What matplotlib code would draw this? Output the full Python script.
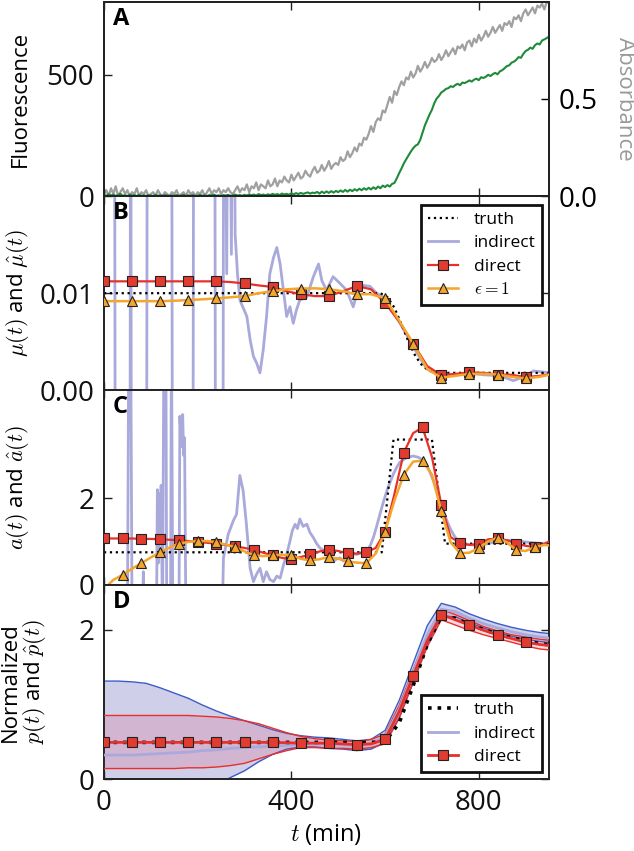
import numpy as np
import matplotlib
matplotlib.use('Agg')
import matplotlib.pyplot as plt

plt.rcParams['font.family'] = ['Open Sans', 'DejaVu Sans']
plt.rcParams['mathtext.fontset'] = 'cm'

# ---------------- Panel A : raw data (5-min sampling) ----------------
t_raw = np.arange(0, 951, 5)
fluorescence = [
    5, 0, 8, 2, 6, 0, 4, 9, 1, 3,
    0, 6, 2, 4, 0, 5, 1, 3, 0, 4,
    2, 0, 5, 1, 3, 0, 4, 2, 0, 3,
    1, 4, 0, 2, 5, 0, 3, 1, 4, 0,
    2, 5, 1, 3, 0, 4, 2, 6, 1, 3,
    0, 4, 2, 5, 1, 3, 6, 2, 4, 1,
    5, 2, 7, 3, 6, 2, 8, 4, 6, 3,
    7, 4, 9, 5, 8, 4, 10, 6, 9, 5,
    11, 7, 12, 8, 13, 9, 12, 15, 10, 14,
    12, 17, 10, 18, 12, 19, 13, 20, 14, 21,
    16, 23, 17, 25, 18, 26, 20, 28, 22, 30,
    24, 32, 26, 34, 27, 36, 29, 39, 32, 43,
    37, 45, 39, 50, 54, 73, 94, 113, 134, 151,
    167, 183, 197, 207, 213, 231, 261, 291, 314, 336,
    355, 382, 401, 412, 426, 433, 441, 444, 452, 449,
    457, 462, 456, 467, 465, 470, 476, 471, 479, 483,
    477, 489, 486, 491, 499, 494, 502, 507, 501, 513,
    518, 526, 535, 538, 549, 553, 561, 572, 569, 585,
    597, 602, 611, 606, 621, 628, 624, 640, 645, 650,
    657]
absorbance = [
    0.01, 0.03, 0.00, 0.04, 0.01, 0.05, 0.00, 0.02, 0.04, 0.01,
    0.03, 0.00, 0.02, 0.01, 0.04, 0.00, 0.02, 0.01, 0.03, 0.00,
    0.01, 0.02, 0.00, 0.03, 0.01, 0.00, 0.02, 0.01, 0.00, 0.02,
    0.01, 0.03, 0.00, 0.01, 0.02, 0.00, 0.03, 0.01, 0.02, 0.00,
    0.02, 0.01, 0.03, 0.00, 0.02, 0.04, 0.01, 0.03, 0.02, 0.04,
    0.01, 0.03, 0.02, 0.04, 0.02, 0.01, 0.03, 0.05, 0.02, 0.04,
    0.03, 0.06, 0.02, 0.05, 0.04, 0.07, 0.03, 0.06, 0.05, 0.04,
    0.08, 0.05, 0.06, 0.09, 0.05, 0.08, 0.07, 0.10, 0.08, 0.07,
    0.11, 0.08, 0.10, 0.12, 0.09, 0.10, 0.13, 0.11, 0.10, 0.13,
    0.15, 0.12, 0.13, 0.16, 0.13, 0.15, 0.18, 0.14, 0.16, 0.17,
    0.16, 0.20, 0.18, 0.19, 0.23, 0.20, 0.22, 0.25, 0.23, 0.27,
    0.26, 0.30, 0.29, 0.32, 0.36, 0.33, 0.38, 0.40, 0.39, 0.44,
    0.43, 0.47, 0.51, 0.48, 0.54, 0.52, 0.56, 0.59, 0.57, 0.61,
    0.60, 0.64, 0.61, 0.63, 0.67, 0.64, 0.66, 0.69, 0.66, 0.68,
    0.71, 0.69, 0.70, 0.73, 0.70, 0.72, 0.75, 0.72, 0.74, 0.76,
    0.73, 0.77, 0.76, 0.78, 0.75, 0.79, 0.80, 0.77, 0.81, 0.79,
    0.83, 0.80, 0.82, 0.85, 0.82, 0.84, 0.87, 0.84, 0.86, 0.88,
    0.85, 0.89, 0.88, 0.90, 0.87, 0.92, 0.91, 0.93, 0.90, 0.94,
    0.96, 0.93, 0.95, 0.97, 0.94, 0.98, 0.97, 0.99, 0.96, 1.00,
    0.99]

# ---------------- Panel B : growth rate mu(t) ----------------
t_B = np.arange(0, 961, 30)
mu_direct = [0.01122, 0.01122, 0.01122, 0.01122, 0.01122, 0.01122, 0.01122, 0.01122, 0.01122, 0.01115,
             0.0110, 0.0108, 0.01064, 0.0102, 0.0099, 0.0097, 0.0097, 0.0102, 0.01074, 0.0104,
             0.0090, 0.0071, 0.0048, 0.0025, 0.00156, 0.0017, 0.00184, 0.0018, 0.00163, 0.0016,
             0.00136, 0.0015, 0.0017]
mu_eps1 = [0.00918, 0.00918, 0.00918, 0.00918, 0.00918, 0.00922, 0.00929, 0.00937, 0.00946, 0.00958,
           0.00969, 0.0100, 0.0102, 0.0104, 0.01048, 0.0105, 0.01041, 0.0102, 0.0099, 0.0099,
           0.00946, 0.0072, 0.0048, 0.0022, 0.0013, 0.0015, 0.0017, 0.0017, 0.00163, 0.0014,
           0.00122, 0.0014, 0.0017]
mu_truth_t = [0, 590, 605, 620, 635, 650, 665, 680, 695, 710, 960]
mu_truth = [0.01, 0.01, 0.0096, 0.0085, 0.0068, 0.0050, 0.0035, 0.0025, 0.0020, 0.0018, 0.0018]
mu_indirect = [
    (0, 0.05), (22, 0.05), (25, -0.04), (55, -0.04), (57, 0.05), (59, -0.04), (90, -0.04), (93, 0.05),
    (144, 0.05), (147, -0.04), (189, -0.04), (192, 0.05), (236, 0.05), (239, -0.04), (253, -0.04),
    (256, 0.05), (262, 0.012), (266, 0.05), (272, 0.014), (276, 0.05), (280, 0.016), (285, 0.012),
    (290, 0.0093), (305, 0.0076), (312, 0.0052), (319, 0.0035), (326, 0.0028), (333, 0.0018),
    (340, 0.0042), (347, 0.0076), (354, 0.0120), (362, 0.0137), (369, 0.0147), (376, 0.0130),
    (383, 0.0103), (390, 0.0076), (397, 0.0086), (404, 0.0069), (411, 0.0083), (418, 0.0093),
    (433, 0.0096), (447, 0.0117), (458, 0.0130), (465, 0.0113), (475, 0.0103), (489, 0.0117),
    (504, 0.0110), (518, 0.0103), (532, 0.0086), (540, 0.0100), (554, 0.0108), (568, 0.0107),
    (582, 0.0100), (596, 0.0096), (632, 0.0069), (660, 0.0045), (689, 0.0022), (717, 0.0016),
    (746, 0.0015), (774, 0.0018), (810, 0.0016), (845, 0.0015), (874, 0.0010), (902, 0.0015),
    (917, 0.0020), (952, 0.0018)]

# ---------------- Panel C : a(t) ----------------
t_C = np.arange(0, 961, 20)
a_direct = [1.07, 1.07, 1.07, 1.07, 1.06, 1.06, 1.05, 1.04, 1.03, 1.01,
            0.99, 0.97, 0.95, 0.92, 0.89, 0.85, 0.81, 0.74, 0.68, 0.62,
            0.59, 0.64, 0.70, 0.77, 0.81, 0.78, 0.73, 0.72, 0.75, 0.85,
            1.23, 2.10, 3.06, 3.51, 3.64, 2.96, 1.85, 1.10, 0.97, 0.92,
            0.94, 1.05, 1.07, 1.03, 0.95, 0.90, 0.87, 0.95, 1.05]
a_eps1 = [-0.10, 0.11, 0.23, 0.37, 0.50, 0.63, 0.75, 0.86, 0.95, 0.99,
          1.01, 1.01, 0.98, 0.93, 0.87, 0.77, 0.68, 0.66, 0.68, 0.69,
          0.68, 0.60, 0.56, 0.59, 0.64, 0.60, 0.54, 0.51, 0.50, 0.72,
          1.23, 1.95, 2.55, 2.85, 2.87, 2.55, 1.70, 0.98, 0.73, 0.74,
          0.85, 1.00, 1.09, 0.98, 0.80, 0.78, 0.87, 0.92, 0.90]
a_truth_t = [0, 593, 618, 700, 728, 960]
a_truth = [0.75, 0.75, 3.36, 3.36, 0.95, 0.95]
a_indirect = [
    (0, -1), (50, -1), (53, 6), (57, 6), (60, -1), (82, -1), (84, 0.3), (87, -1), (112, -1),
    (114, 2.2), (116, 0.5), (118, 2.1), (120, 1.0), (122, 2.3), (125, -1), (128, 6), (132, 6),
    (134, -1), (142, -1), (144, 6), (147, -1), (160, -1), (162, 3.9), (165, 3.2), (168, 3.94),
    (170, 3.0), (172, 3.4), (175, -1), (252, -1), (255, 0.62), (265, 1.16), (276, 1.48),
    (283, 1.63), (290, 2.53), (297, 2.18), (304, 1.40), (312, 0.38), (319, 0.07), (326, 0.25),
    (333, 0.38), (340, 0.07), (347, 0.30), (354, 0.12), (362, 0.07), (369, 0.20), (376, 0.15),
    (383, 0.45), (390, 0.70), (397, 1.01), (402, 1.25), (408, 1.40), (413, 1.30), (418, 1.52),
    (425, 1.35), (433, 1.40), (440, 1.20), (447, 1.09), (454, 0.95), (461, 0.85), (468, 0.80),
    (475, 0.70), (482, 0.66), (490, 0.54), (497, 0.60), (504, 0.62), (511, 0.55), (518, 0.70),
    (525, 0.66), (532, 0.72), (540, 0.70), (547, 0.74), (554, 0.72), (561, 0.77), (568, 0.90),
    (575, 1.09), (582, 1.35), (589, 1.63), (596, 1.90), (604, 2.18), (611, 2.38), (618, 2.57),
    (625, 2.72), (632, 2.84), (646, 2.94), (660, 2.98), (671, 2.95), (682, 2.88), (692, 2.70),
    (703, 2.41), (710, 2.18), (717, 1.95), (724, 1.72), (732, 1.48), (739, 1.30), (746, 1.16),
    (753, 1.05), (760, 0.97), (767, 0.94), (774, 0.93), (792, 0.92), (810, 0.93), (828, 0.97),
    (846, 1.01), (864, 1.03), (881, 1.02), (899, 0.99), (917, 0.97), (935, 0.95), (952, 0.93)]

# ---------------- Panel D : normalized p(t) ----------------
t_D = np.arange(0, 961, 30)
p_truth = [0.49, 0.49, 0.49, 0.49, 0.49, 0.49, 0.49, 0.49, 0.49, 0.49,
           0.49, 0.49, 0.49, 0.49, 0.49, 0.49, 0.49, 0.49, 0.49, 0.49,
           0.50, 0.75, 1.25, 1.80, 2.18, 2.15, 2.07, 2.00, 1.94, 1.89,
           1.85, 1.81, 1.79]
p_ind_mid = [0.32, 0.32, 0.32, 0.33, 0.34, 0.35, 0.36, 0.38, 0.39, 0.41,
             0.42, 0.43, 0.44, 0.45, 0.46, 0.47, 0.47, 0.46, 0.45, 0.47,
             0.57, 0.93, 1.42, 1.93, 2.27, 2.24, 2.15, 2.08, 2.02, 1.97,
             1.93, 1.90, 1.88]
p_ind_hi = [1.31, 1.31, 1.30, 1.28, 1.22, 1.15, 1.08, 0.99, 0.91, 0.84,
            0.78, 0.72, 0.66, 0.61, 0.58, 0.56, 0.55, 0.53, 0.51, 0.53,
            0.65, 1.05, 1.55, 2.05, 2.35, 2.30, 2.21, 2.14, 2.08, 2.03,
            1.99, 1.96, 1.94]
p_ind_lo = [-0.55, -0.55, -0.53, -0.50, -0.45, -0.38, -0.29, -0.19, -0.08, 0.02,
            0.11, 0.23, 0.33, 0.40, 0.43, 0.43, 0.41, 0.40, 0.38, 0.40,
            0.49, 0.82, 1.30, 1.80, 2.18, 2.17, 2.09, 2.02, 1.96, 1.91,
            1.87, 1.84, 1.82]
p_dir_mid = [0.49, 0.49, 0.49, 0.49, 0.49, 0.49, 0.49, 0.49, 0.49, 0.49,
             0.49, 0.49, 0.49, 0.485, 0.48, 0.48, 0.48, 0.47, 0.46, 0.47,
             0.53, 0.90, 1.38, 1.85, 2.20, 2.13, 2.06, 1.99, 1.93, 1.88,
             1.83, 1.80, 1.78]
p_dir_hi = [0.85, 0.85, 0.85, 0.85, 0.85, 0.85, 0.85, 0.84, 0.83, 0.81,
            0.78, 0.74, 0.68, 0.62, 0.57, 0.54, 0.52, 0.51, 0.50, 0.53,
            0.60, 0.98, 1.46, 1.93, 2.27, 2.20, 2.12, 2.04, 1.98, 1.93,
            1.90, 1.87, 1.85]
p_dir_lo = [0.14, 0.14, 0.14, 0.14, 0.14, 0.14, 0.15, 0.15, 0.16, 0.18,
            0.21, 0.27, 0.33, 0.38, 0.42, 0.42, 0.41, 0.41, 0.40, 0.42,
            0.47, 0.81, 1.29, 1.77, 2.13, 2.06, 1.99, 1.93, 1.88, 1.83,
            1.78, 1.74, 1.72]

x_ticks = [0, 400, 800]

# ---------------- styles ----------------
GREEN = '#1e8a3a'
GRAY = '#a0a0a0'
RED = '#e8302a'
ORANGE = '#f5a52a'
LAV = '#a9a9dc'
BLUE = '#3a5cc8'
TICK = 20
LAB = 16

fig = plt.figure(figsize=(6.34, 8.51), dpi=100)
axes = fig.subplots(4, 1, sharex=True, gridspec_kw=dict(hspace=0))
fig.subplots_adjust(left=0.164, right=0.866, top=0.998, bottom=0.0846)

for ax in axes:
    for s in ax.spines.values():
        s.set_linewidth(1.4)
        s.set_color('#222222')
    ax.tick_params(direction='in', length=6, width=1.0, labelsize=TICK, pad=7,
                   top=True, right=True, colors='#222222', labelcolor='#111111')
    ax.set_xlim(0, 950)
    ax.set_xticks(x_ticks)

leg_kw = dict(fontsize=12.5, frameon=True, fancybox=False, framealpha=1, edgecolor='#111111',
              handlelength=1.7, handletextpad=0.9, labelspacing=0.42, borderpad=0.4,
              borderaxespad=0)

# Panel A
axA = axes[0]
axA2 = axA.twinx()
axA2.plot(t_raw, absorbance, color=GRAY, lw=1.6)
axA.plot(t_raw, fluorescence, color=GREEN, lw=1.5)
axA.set_zorder(axA2.get_zorder() + 1)
axA.patch.set_visible(False)
axA.set_ylim(0, 800)
axA.set_yticks([0, 500])
axA.tick_params(right=False)
axA2.set_ylim(0, 1.0)
axA2.set_yticks([0.0, 0.5])
axA2.set_yticklabels(['0.0', '0.5'])
axA2.tick_params(direction='in', length=6, width=1.0, labelsize=TICK, pad=7)
for s in axA2.spines.values():
    s.set_linewidth(1.4)
    s.set_color('#222222')
axA.set_ylabel('Fluorescence', fontsize=LAB)
axA2.set_ylabel('Absorbance', fontsize=LAB, color='#999999', rotation=270, va='bottom')
axA2.yaxis.set_label_coords(1.145, 0.5)

# Panel B
axB = axes[1]
tb, vb = zip(*mu_indirect)
axB.plot(tb, vb, color=LAV, lw=2, label='indirect', zorder=1)
axB.plot(mu_truth_t, mu_truth, color='k', ls=':', lw=1.6, label='truth', zorder=2)
axB.plot(t_B, mu_direct, color=RED, lw=1.6, marker='s', ms=6.5, mfc='#e23b30', mec='#222222',
         mew=0.8, markevery=2, label='direct', zorder=3)
axB.plot(t_B, mu_eps1, color=ORANGE, lw=1.8, marker='^', ms=6.5, mfc=ORANGE, mec='#222222',
         mew=0.8, markevery=2, label=r'$\epsilon=1$', zorder=4)
axB.set_ylim(0, 0.02)
axB.set_yticks([0, 0.01])
axB.set_yticklabels(['0.00', '0.01'])
axB.set_ylabel(r'$\mu(t)$ and $\hat{\mu}(t)$', fontsize=LAB)
h, l = axB.get_legend_handles_labels()
order = [1, 0, 2, 3]
legB = axB.legend([h[i] for i in order], [l[i] for i in order], loc='upper right',
                  bbox_to_anchor=(0.985, 0.955), **leg_kw)
legB.get_frame().set_linewidth(2.0)

# Panel C
axC = axes[2]
tc, vc = zip(*a_indirect)
axC.plot(tc, vc, color=LAV, lw=2, zorder=1)
axC.plot(a_truth_t, a_truth, color='k', ls=':', lw=1.6, zorder=2)
axC.plot(t_C, a_direct, color=RED, lw=1.6, marker='s', ms=6.5, mfc='#e23b30', mec='#222222',
         mew=0.8, markevery=2, zorder=3)
axC.plot(t_C, a_eps1, color=ORANGE, lw=1.8, marker='^', ms=6.5, mfc=ORANGE, mec='#222222',
         mew=0.8, markevery=2, zorder=4)
axC.set_ylim(0, 4.5)
axC.set_yticks([0, 2])
axC.set_ylabel(r'$a(t)$ and $\hat{a}(t)$', fontsize=LAB)

# Panel D
axD = axes[3]
axD.fill_between(t_D, p_ind_lo, p_ind_hi, color='#cfcfea', lw=0, zorder=1)
axD.plot(t_D, p_ind_hi, color=BLUE, lw=1.0, zorder=2)
axD.plot(t_D, p_ind_lo, color=BLUE, lw=1.0, zorder=2)
axD.fill_between(t_D, p_dir_lo, p_dir_hi, color='#e04060', alpha=0.18, lw=0, zorder=3)
axD.plot(t_D, p_dir_hi, color=RED, lw=1.0, zorder=4)
axD.plot(t_D, p_dir_lo, color=RED, lw=1.0, zorder=4)
axD.plot(t_D, p_ind_mid, color=LAV, lw=2, label='indirect', zorder=5)
axD.plot(t_D, p_truth, color='k', ls=':', lw=2.6, label='truth', zorder=6)
axD.plot(t_D, p_dir_mid, color=RED, lw=2.0, marker='s', ms=6.5, mfc='#e23b30', mec='#222222',
         mew=0.8, markevery=2, label='direct', zorder=7)
axD.set_ylim(0, 2.6)
axD.set_yticks([0, 2])
axD.set_ylabel('Normalized\n' + r'$p(t)$ and $\hat{p}(t)$', fontsize=LAB, linespacing=1.05)
h, l = axD.get_legend_handles_labels()
order = [1, 0, 2]
legD = axD.legend([h[i] for i in order], [l[i] for i in order], loc='lower right',
                  bbox_to_anchor=(0.985, 0.035), **leg_kw)
legD.get_frame().set_linewidth(2.0)
axD.set_xlabel(r'$t$ (min)', fontsize=LAB + 1)

for ax in axes[:3]:
    ax.yaxis.set_label_coords(-0.165, 0.5)
axD.yaxis.set_label_coords(-0.125, 0.5)

for ax, letter in zip(axes, 'ABCD'):
    ax.text(0.02, 0.975, letter, transform=ax.transAxes, fontsize=17, fontweight='bold',
            va='top', ha='left', zorder=10)

fig.savefig('out.png', dpi=100)
